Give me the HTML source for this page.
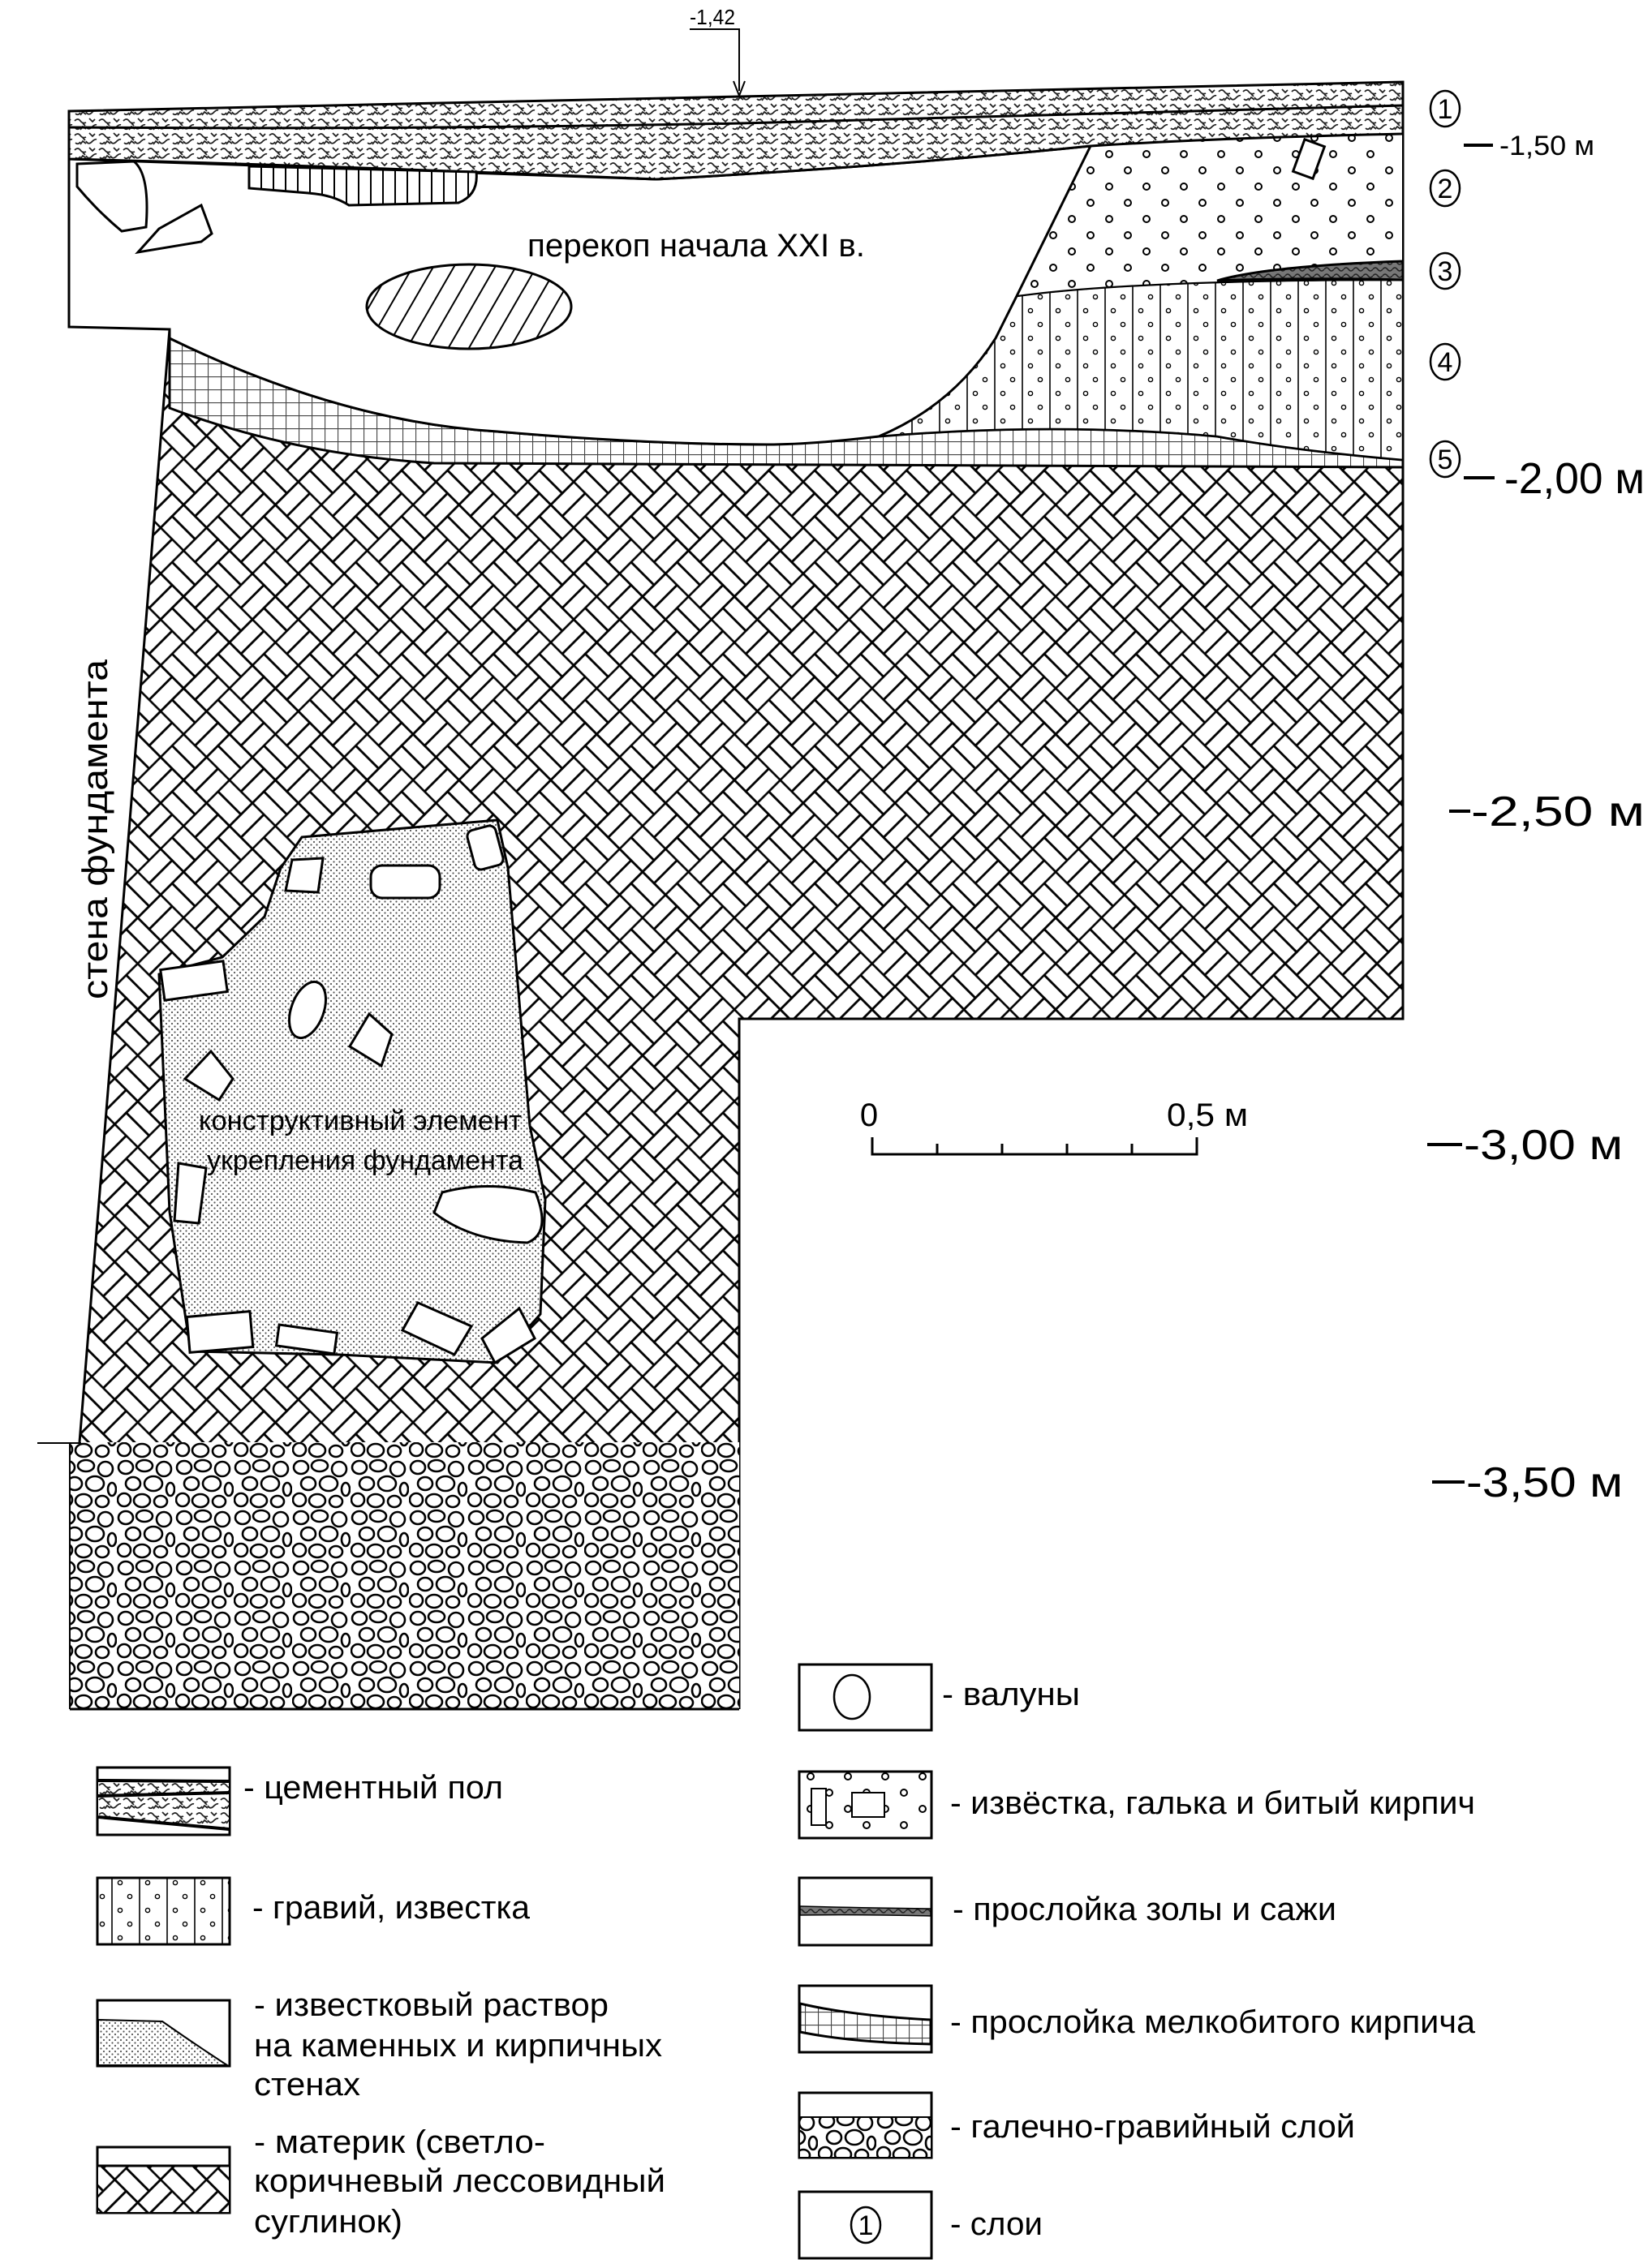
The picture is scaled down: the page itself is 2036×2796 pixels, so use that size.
<!DOCTYPE html>
<html><head><meta charset="utf-8"><style>
html,body{margin:0;padding:0;background:#fff;}
svg{display:block;}
text{font-family:"Liberation Sans",sans-serif;fill:#000;}
</style></head><body>
<svg width="2036" height="2796" viewBox="0 0 2036 2796" xmlns="http://www.w3.org/2000/svg">
<defs>
<pattern id="herr" width="80" height="80" patternUnits="userSpaceOnUse" patternTransform="rotate(45)">
<rect width="80" height="80" fill="#fff"/>
<g stroke="#000" stroke-width="2.6" fill="none">
<rect x="0" y="0" width="40" height="20"/><rect x="0" y="20" width="40" height="20"/>
<rect x="40" y="0" width="20" height="40"/><rect x="60" y="0" width="20" height="40"/>
<rect x="0" y="40" width="20" height="40"/><rect x="20" y="40" width="20" height="40"/>
<rect x="40" y="40" width="40" height="20"/><rect x="40" y="60" width="40" height="20"/>
</g></pattern>
<pattern id="grav" width="72" height="62" patternUnits="userSpaceOnUse">
<rect width="72" height="62" fill="#fff"/>
<g stroke="#000" stroke-width="2.6" fill="none">
<ellipse cx="11" cy="11" rx="9" ry="8"/><ellipse cx="34" cy="9" rx="10" ry="7"/><ellipse cx="58" cy="13" rx="9" ry="9"/>
<ellipse cx="20" cy="31" rx="9" ry="8"/><ellipse cx="45" cy="31" rx="11" ry="9"/><ellipse cx="66" cy="38" rx="5" ry="8"/>
<ellipse cx="9" cy="51" rx="8" ry="8"/><ellipse cx="31" cy="52" rx="10" ry="8"/><ellipse cx="54" cy="53" rx="8" ry="7"/>
</g></pattern>
<pattern id="floor" width="30" height="18" patternUnits="userSpaceOnUse">
<rect width="30" height="18" fill="#fff"/>
<path d="M2 5 q4 -4 7 0 t7 2 M16 12 q3 5 7 1 t6 -3 M3 14 q3 3 6 -1 M20 2 l4 4 l3 -3 M9 16 l3 -4 l4 3 M12 8 l3 3" stroke="#222" stroke-width="1.8" fill="none"/>
</pattern>
<pattern id="dots2" width="46" height="40" patternUnits="userSpaceOnUse">
<circle cx="10" cy="10" r="4" stroke="#000" stroke-width="2" fill="none"/>
<circle cx="33" cy="30" r="4" stroke="#000" stroke-width="2" fill="none"/>
</pattern>
<pattern id="l4" width="34" height="34" patternUnits="userSpaceOnUse">
<rect width="34" height="34" fill="#fff"/>
<line x1="2" y1="0" x2="2" y2="34" stroke="#000" stroke-width="1.6"/>
<circle cx="12" cy="9" r="2.6" stroke="#000" stroke-width="1.4" fill="none"/>
<circle cx="24" cy="26" r="2.6" stroke="#000" stroke-width="1.4" fill="none"/>
</pattern>
<pattern id="grid" width="16" height="16" patternUnits="userSpaceOnUse">
<rect width="16" height="16" fill="#fff"/>
<path d="M0 0.5H16M0.5 0V16" stroke="#444" stroke-width="1.2"/>
</pattern>
<pattern id="fdots" width="7" height="7" patternUnits="userSpaceOnUse">
<rect width="7" height="7" fill="#fff"/>
<circle cx="2" cy="2" r="1.1" fill="#555"/><circle cx="5.5" cy="5.5" r="1.1" fill="#555"/>
</pattern>
<pattern id="vh" width="15" height="15" patternUnits="userSpaceOnUse">
<rect width="15" height="15" fill="#fff"/><line x1="7" y1="0" x2="7" y2="15" stroke="#000" stroke-width="2"/>
</pattern>
<pattern id="dh" width="22" height="22" patternUnits="userSpaceOnUse" patternTransform="rotate(30)">
<rect width="22" height="22" fill="#fff"/><line x1="11" y1="0" x2="11" y2="22" stroke="#000" stroke-width="2"/>
</pattern>
<pattern id="ash" width="12" height="8" patternUnits="userSpaceOnUse">
<rect width="12" height="8" fill="#777"/><path d="M0 4q3 -4 6 0t6 0" stroke="#222" stroke-width="1.5" fill="none"/>
</pattern>
</defs>

<path d="M209 503 Q360 560 535 571 L1729 576 L1729 1256 L911 1256 L911 1778 L98 1778 L209 406 Z" fill="url(#herr)"/>
<path d="M209 406 L98 1778" stroke="#000" stroke-width="3" fill="none"/>
<path d="M1729 101 L1729 1256 L911 1256 L911 2107" stroke="#000" stroke-width="3" fill="none"/>
<rect x="86" y="1778" width="825" height="329" fill="url(#grav)"/>
<line x1="86" y1="2107" x2="911" y2="2107" stroke="#000" stroke-width="3"/>
<line x1="86" y1="1778" x2="86" y2="2107" stroke="#000" stroke-width="2"/>
<line x1="46" y1="1779" x2="100" y2="1779" stroke="#000" stroke-width="2"/>
<path d="M209 417 Q420 520 613 532 Q800 548 946 548 L1083 538 Q1300 520 1500 538 Q1600 556 1729 567 L1729 576 L535 571 Q360 560 209 503 Z" fill="url(#grid)" stroke="#000" stroke-width="3"/>
<path d="M1083 538 Q1174 500 1227 417 L1253 365 Q1400 345 1729 345 L1729 567 Q1600 556 1500 538 Q1300 520 1083 538 Z" fill="url(#l4)" stroke="#000" stroke-width="2.5"/>
<path d="M1344 180 Q1500 170 1729 165 L1729 345 Q1400 345 1253 365 Z" fill="#fff" stroke="#000" stroke-width="2"/>
<path d="M1344 180 Q1500 170 1729 165 L1729 345 Q1400 345 1253 365 Z" fill="url(#dots2)"/>
<path d="M1500 346 Q1560 328 1729 322 L1729 345 Q1600 342 1500 346 Z" fill="url(#ash)" stroke="#000" stroke-width="3"/>
<rect x="1600" y="175" width="26" height="42" transform="rotate(20 1613 196)" fill="#fff" stroke="#000" stroke-width="3"/>
<path d="M85 196 Q300 204 809 221 Q1100 205 1344 180 L1253 365 L1227 417 Q1174 500 1083 538 Q1000 548 946 548 Q800 548 613 532 Q420 520 209 417 L209 406 L85 403 Z" fill="#fff" stroke="#000" stroke-width="3"/>
<path d="M85 137 L913 119 L1729 101 L1729 165 Q1500 170 1344 180 Q1100 205 809 221 Q400 204 85 196 Z" fill="url(#floor)" stroke="#000" stroke-width="3"/>
<path d="M85 157 Q500 160 913 152 Q1300 140 1729 130" stroke="#000" stroke-width="3" fill="none"/>
<path d="M95 202 L165 199 Q185 215 180 280 L150 285 Q120 260 95 230 Z" fill="#fff" stroke="#000" stroke-width="3"/>
<path d="M170 311 L196 282 L248 253 L261 288 L248 298 Z" fill="#fff" stroke="#000" stroke-width="3"/>
<path d="M307 205 L587 212 Q590 240 565 250 L430 253 Q410 240 380 238 L307 232 Z" fill="url(#vh)" stroke="#000" stroke-width="3"/>
<ellipse cx="578" cy="378" rx="126" ry="52" fill="url(#dh)" stroke="#000" stroke-width="3"/>
<text x="650" y="316" font-size="40" textLength="416" lengthAdjust="spacingAndGlyphs">перекоп начала XXI в.</text>
<path d="M372 1032 L613 1011 L626 1070 L653 1388 L672 1479 L666 1620 L613 1680 L418 1670 L235 1666 L209 1494 L196 1201 L274 1180 L326 1130 L346 1070 Z" fill="url(#fdots)" stroke="#000" stroke-width="3"/>
<g fill="#fff" stroke="#000" stroke-width="3">
<rect x="457" y="1067" width="85" height="40" rx="14"/>
<rect x="580" y="1020" width="36" height="50" rx="8" transform="rotate(-15 598 1045)"/>
<path d="M360 1060 L398 1058 L392 1100 L352 1098 Z"/>
<rect x="200" y="1190" width="78" height="38" transform="rotate(-8 239 1209)"/>
<ellipse cx="379" cy="1245" rx="20" ry="36" transform="rotate(20 379 1245)"/>
<path d="M455 1250 L483 1275 L470 1314 L431 1290 Z"/>
<path d="M260 1296 L287 1330 L270 1356 L228 1330 Z"/>
<path d="M220 1434 L254 1440 L245 1508 L215 1505 Z"/>
<path d="M545 1470 Q600 1455 660 1470 Q680 1520 650 1532 Q580 1530 535 1495 Z"/>
<rect x="232" y="1620" width="78" height="44" transform="rotate(-5 271 1642)"/>
<rect x="342" y="1638" width="72" height="26" transform="rotate(8 378 1651)"/>
<path d="M515 1606 L581 1635 L560 1670 L496 1640 Z"/>
<path d="M640 1613 L659 1650 L610 1680 L594 1650 Z"/>
</g>
<text x="444" y="1393" font-size="34" text-anchor="middle" textLength="398" lengthAdjust="spacingAndGlyphs">конструктивный элемент</text>
<text x="450" y="1442" font-size="34" text-anchor="middle" textLength="390" lengthAdjust="spacingAndGlyphs">укрепления фундамента</text>
<text transform="translate(132 1232) rotate(-90)" font-size="44" textLength="419" lengthAdjust="spacingAndGlyphs">стена фундамента</text>
<text x="850" y="30" font-size="26" textLength="56" lengthAdjust="spacingAndGlyphs">-1,42</text>
<path d="M850 36 L911 36 L911 112" stroke="#000" stroke-width="2" fill="none"/>
<path d="M904 100 L911 118 L918 100" stroke="#000" stroke-width="2" fill="none"/>
<g fill="none" stroke="#000" stroke-width="2.5">
<ellipse cx="1781" cy="134" rx="18" ry="22"/><ellipse cx="1781" cy="232" rx="18" ry="22"/>
<ellipse cx="1781" cy="334" rx="18" ry="22"/><ellipse cx="1781" cy="446" rx="18" ry="22"/>
<ellipse cx="1781" cy="566" rx="18" ry="22"/>
</g>
<g font-size="34" text-anchor="middle">
<text x="1781" y="146">1</text><text x="1781" y="244">2</text><text x="1781" y="346">3</text><text x="1781" y="458">4</text><text x="1781" y="578">5</text>
</g>
<g stroke="#000" stroke-width="4">
<line x1="1804" y1="179" x2="1840" y2="179"/>
<line x1="1804" y1="589" x2="1842" y2="589"/>
<line x1="1786" y1="1000" x2="1812" y2="1000"/>
<line x1="1759" y1="1411" x2="1802" y2="1411"/>
<line x1="1765" y1="1827" x2="1805" y2="1827"/>
</g>
<text x="1848" y="191" font-size="34" textLength="117" lengthAdjust="spacingAndGlyphs">-1,50 м</text>
<text x="1854" y="608" font-size="54" textLength="173" lengthAdjust="spacingAndGlyphs">-2,00 м</text>
<text x="1813" y="1018" font-size="52" textLength="214" lengthAdjust="spacingAndGlyphs">-2,50 м</text>
<text x="1804" y="1429" font-size="52" textLength="196" lengthAdjust="spacingAndGlyphs">-3,00 м</text>
<text x="1807" y="1845" font-size="52" textLength="193" lengthAdjust="spacingAndGlyphs">-3,50 м</text>
<path d="M1075 1402 V1423 H1475 V1402 M1155 1423 V1410 M1235 1423 V1410 M1315 1423 V1410 M1395 1423 V1410" stroke="#000" stroke-width="3" fill="none"/>
<text x="1071" y="1388" font-size="40" text-anchor="middle">0</text>
<text x="1438" y="1388" font-size="40" textLength="100" lengthAdjust="spacingAndGlyphs">0,5 м</text>

<g stroke="#000" stroke-width="3" fill="none">
<rect x="120" y="2179" width="163" height="83" fill="#fff"/>
<rect x="120" y="2315" width="163" height="82" fill="url(#l4)"/>
<rect x="120" y="2466" width="163" height="81" fill="#fff"/>
<rect x="120" y="2647" width="163" height="81" fill="#fff"/>
<rect x="985" y="2052" width="163" height="81" fill="#fff"/>
<rect x="985" y="2184" width="163" height="82" fill="#fff"/>
<rect x="985" y="2315" width="163" height="83" fill="#fff"/>
<rect x="985" y="2448" width="163" height="82" fill="#fff"/>
<rect x="985" y="2580" width="163" height="80" fill="#fff"/>
<rect x="985" y="2702" width="163" height="82" fill="#fff"/>
</g>
<path d="M121 2195 L282 2196 L282 2255 L121 2240 Z" fill="url(#floor)"/>
<path d="M121 2195 L282 2196 M121 2214 L282 2210 M121 2240 L282 2255" stroke="#000" stroke-width="4" fill="none"/>
<path d="M121 2490 L200 2492 Q240 2520 280 2546 L121 2546 Z" fill="url(#fdots)" stroke="#000" stroke-width="2"/>
<rect x="121" y="2670" width="161" height="57" fill="url(#herr)"/>
<line x1="120" y1="2670" x2="283" y2="2670" stroke="#000" stroke-width="3"/>
<ellipse cx="1050" cy="2092" rx="22" ry="27" fill="none" stroke="#000" stroke-width="2.5"/>
<rect x="986" y="2185" width="161" height="80" fill="url(#dots2)"/>
<rect x="1000" y="2205" width="18" height="45" fill="#fff" stroke="#000" stroke-width="2"/>
<rect x="1050" y="2210" width="40" height="30" fill="#fff" stroke="#000" stroke-width="2"/>
<path d="M986 2350 Q1060 2352 1147 2353 L1147 2362 Q1060 2360 986 2361 Z" fill="url(#ash)" stroke="#000" stroke-width="1.5"/>
<path d="M986 2470 Q1050 2485 1147 2490 L1147 2520 Q1050 2518 986 2505 Z" fill="url(#grid)" stroke="#000" stroke-width="3"/>
<rect x="986" y="2610" width="161" height="49" fill="url(#grav)"/>
<line x1="985" y1="2610" x2="1148" y2="2610" stroke="#000" stroke-width="2"/>
<ellipse cx="1067" cy="2743" rx="18" ry="22" fill="none" stroke="#000" stroke-width="2.5"/>
<text x="1067" y="2755" font-size="34" text-anchor="middle">1</text>
<g font-size="40">
<text x="300" y="2217" textLength="320" lengthAdjust="spacingAndGlyphs">- цементный пол</text>
<text x="311" y="2365" textLength="342" lengthAdjust="spacingAndGlyphs">- гравий, известка</text>
<text x="313" y="2485" textLength="437" lengthAdjust="spacingAndGlyphs">- известковый раствор</text>
<text x="313" y="2535" textLength="503" lengthAdjust="spacingAndGlyphs">на каменных и кирпичных</text>
<text x="313" y="2583" textLength="131" lengthAdjust="spacingAndGlyphs">стенах</text>
<text x="313" y="2654" textLength="359" lengthAdjust="spacingAndGlyphs">- материк (светло-</text>
<text x="313" y="2702" textLength="507" lengthAdjust="spacingAndGlyphs">коричневый лессовидный</text>
<text x="313" y="2752" textLength="183" lengthAdjust="spacingAndGlyphs">суглинок)</text>
<text x="1161" y="2102" textLength="170" lengthAdjust="spacingAndGlyphs">- валуны</text>
<text x="1171" y="2236" textLength="647" lengthAdjust="spacingAndGlyphs">- извёстка, галька и битый кирпич</text>
<text x="1174" y="2367" textLength="473" lengthAdjust="spacingAndGlyphs">- прослойка золы и сажи</text>
<text x="1171" y="2506" textLength="647" lengthAdjust="spacingAndGlyphs">- прослойка мелкобитого кирпича</text>
<text x="1171" y="2635" textLength="499" lengthAdjust="spacingAndGlyphs">- галечно-гравийный слой</text>
<text x="1171" y="2755" textLength="114" lengthAdjust="spacingAndGlyphs">- слои</text>
</g>
</svg>
</body></html>
